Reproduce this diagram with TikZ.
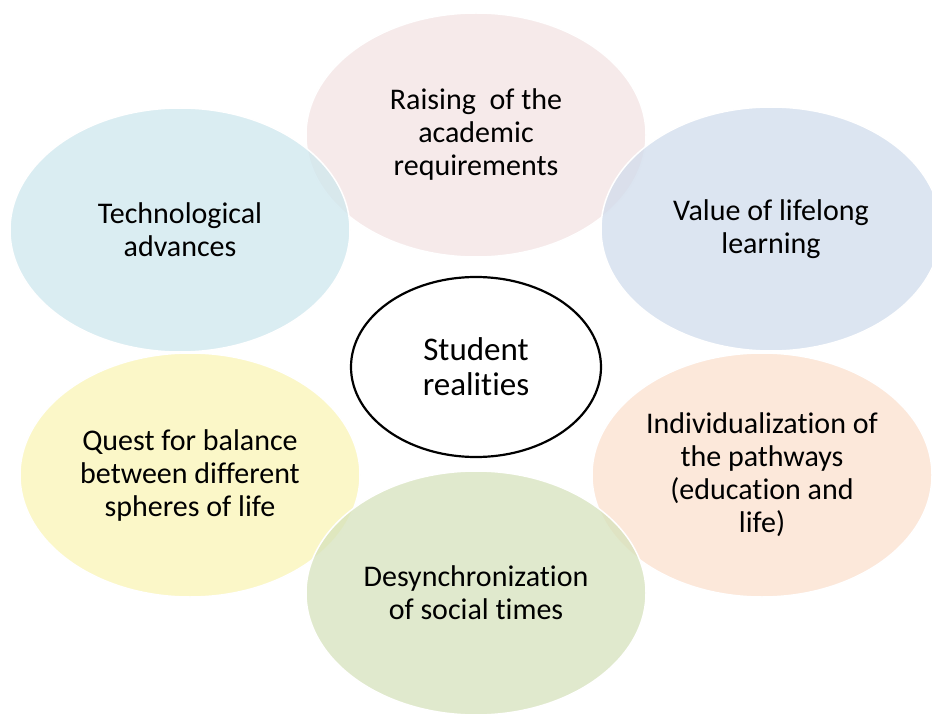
\documentclass[tikz,border=0pt]{standalone}
\usepackage{fontspec}
\setmainfont{Carlito}[Ligatures={NoCommon}]
\usetikzlibrary{shapes.geometric}
\definecolor{cpink}{RGB}{243,227,227}
\definecolor{cblue}{RGB}{206,231,238}
\definecolor{cgblue}{RGB}{208,220,236}
\definecolor{cyellow}{RGB}{250,244,182}
\definecolor{cpeach}{RGB}{251,224,206}
\definecolor{cgreen}{RGB}{214,226,188}
\tikzset{
  bubble/.style={ellipse, draw=white, line width=1.5pt, fill opacity=0.75, text opacity=1,
    minimum width=340pt, minimum height=244pt, inner sep=0pt, align=center,
    font=\fontsize{30}{33}\selectfont, text=black},
  hub/.style={ellipse, draw=black, line width=2.2pt, fill=white,
    minimum width=250pt, minimum height=180pt, inner sep=0pt, align=center,
    font=\fontsize{33}{35}\selectfont}
}
\begin{document}
\begin{tikzpicture}[x=1pt,y=-1pt]
\useasboundingbox (0,0) rectangle (932,714);
\node[bubble, fill=cpink] (raise) at (476,135) {Raising\ \ of the\\academic\\requirements};
\node[bubble, fill=cyellow] (quest) at (190,475) {Quest for balance\\between different\\spheres of life};
\node[bubble, fill=cpeach] (indiv) at (762,475) {Individualization of\\the pathways\\(education and\\life)};
\node[bubble, fill=cblue] (tech) at (180,230) {Technological\\advances};
\node[bubble, fill=cgblue] (value) at (771,229) {Value of lifelong\\learning};
\node[bubble, fill=cgreen] (desync) at (476,593) {Desynchronization\\of social times};
\node[hub] (hub) at (476,367) {Student\\realities};
\end{tikzpicture}
\end{document}
